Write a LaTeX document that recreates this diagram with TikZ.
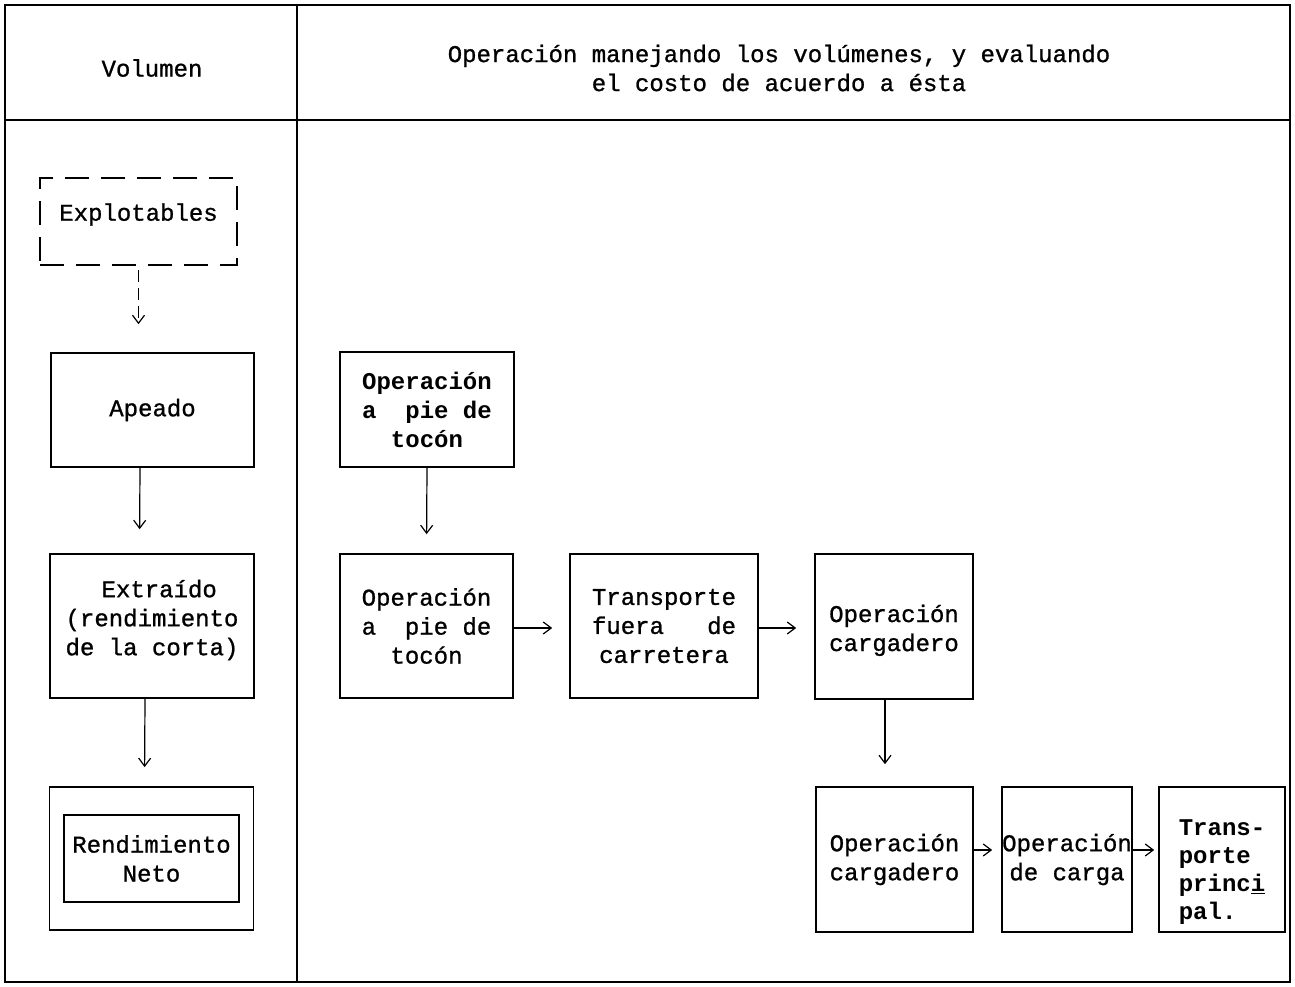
\documentclass[tikz,border=0pt]{standalone}
\usepackage{fontspec}
\setmonofont{Liberation Mono}[UprightFeatures={FakeBold=1}]
\usetikzlibrary{arrows.meta}

\begin{document}
\begin{tikzpicture}[
		x=0.5pt, y=-0.5pt,
		arrow/.style={-{Straight Barb[length=4pt,width=6pt]}, line width=0.6pt},
		block/.style={draw, line width=0.8pt, align=center, inner sep=0pt, font=\ttfamily\fontsize{12}{14.5}\selectfont},
		frame/.style={line width=1.2pt},
		headtext/.style={align=center, font=\ttfamily\fontsize{12}{14.5}\selectfont},
	]
		\useasboundingbox (0,0) rectangle (1295,986);
		
		% table frame
		\draw[frame] (5,5) rectangle (1290,982);
		\draw[frame] (5,120) -- (1290,120);
		\draw[frame] (297,5) -- (297,982);
		
		\node[headtext] (vol) at (152,68) {Volumen};
		\node[headtext] (oper) at (779,68) {Operación manejando los volúmenes, y evaluando\\el costo de acuerdo a ésta};
		
		% volume column
		\node[block, dash pattern=on 12pt off 6pt, minimum width=98.5pt, minimum height=43.5pt] (expl) at (138.5,221.5) {Explotables\\[-5pt]\mbox{}};
		\node[block, minimum width=101.5pt, minimum height=57pt] (apeado) at (152.5,410) {Apeado};
		\node[block, minimum width=102pt, minimum height=72pt] (extr) at (152,626) {\ Extraído\\(rendimiento\\de la corta)\\[-6pt]\mbox{}};
		\node[block, minimum width=87.5pt, minimum height=43.5pt] (neto) at (151.5,858.5) {Rendimiento\\Neto};
		\node[draw, line width=0.9pt, minimum width=102pt, minimum height=71.5pt] (netobox) at (neto) {};
		
		\draw[arrow, dash pattern=on 6pt off 3pt, shorten <=2pt, shorten >=14pt] (expl.south) -- (expl.south |- apeado.north);
		\draw[arrow, shorten >=12pt] ([xshift=-6.25pt]apeado.south) -- ([xshift=-6.25pt]extr.north);
		\draw[arrow, shorten >=9.5pt] ([xshift=-3.5pt]extr.south) -- ([xshift=-3.5pt]netobox.north);
		
		% operation column
		\node[block, font=\ttfamily\bfseries\fontsize{12}{14.5}\selectfont, minimum width=87pt, minimum height=57.5pt] (opA) at (427,409.5) {Operación\\a\ \ pie de\\tocón};
		\node[block, minimum width=86.5pt, minimum height=72pt] (opB) at (426.5,626) {Operación\\a\ \ pie de\\tocón};
		\node[block, minimum width=94pt, minimum height=72pt] (trans) at (664,626) {Transporte\\fuera\ \ \ de\\carretera};
		\node[block, minimum width=79pt, minimum height=72.5pt] (cargA) at (894,626.5) {\mbox{}\\[-2pt]Operación\\cargadero};
		\node[block, minimum width=78.5pt, minimum height=72.5pt] (cargB) at (894.5,859.5) {Operación\\cargadero};
		\node[block, minimum width=65pt, minimum height=72.5pt] (carga) at (1067,859.5) {Operación\\de carga};
		\node[block, align=left, font=\ttfamily\bfseries\fontsize{12}{14}\selectfont, minimum width=63pt, minimum height=72.5pt] (princ) at (1222,859.5) {\mbox{}\\[6pt]Trans-\\porte\\princ\underline{i}\\pal.};
		
		\draw[arrow, shorten >=9.5pt] (opA.south) -- (opB.north);
		\draw[arrow, shorten >=8.5pt] ([yshift=-1pt]opB.east) -- ([yshift=-1pt]trans.west);
		\draw[arrow, shorten >=9pt] ([yshift=-1pt]trans.east) -- ([yshift=-1pt]trans.east -| cargA.west);
		\draw[arrow, shorten >=11pt] ([xshift=-4.5pt]cargA.south) -- ([xshift=-4.5pt]cargA.south |- cargB.north);
		\draw[arrow, shorten >=4.5pt] ([yshift=4.75pt]cargB.east) -- ([yshift=4.75pt]carga.west);
		\draw[arrow, shorten >=2pt] ([yshift=4.75pt]carga.east) -- ([yshift=4.75pt]princ.west);
	\end{tikzpicture}
\end{document}
